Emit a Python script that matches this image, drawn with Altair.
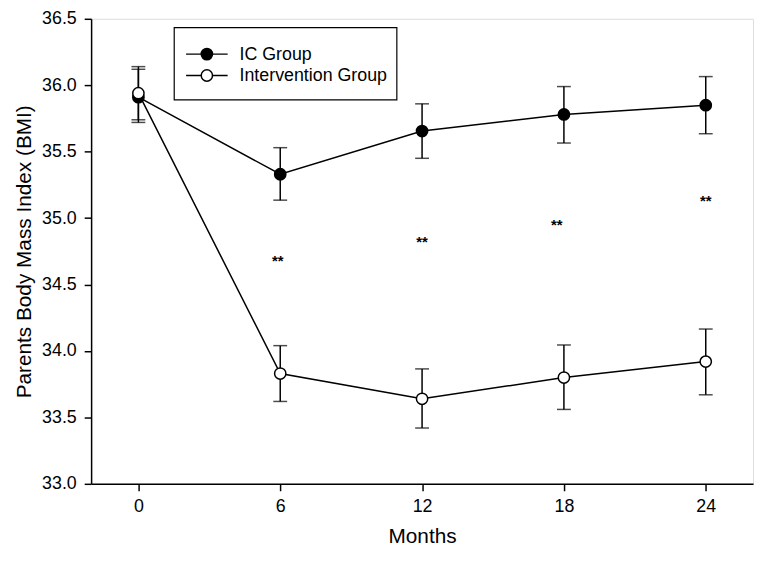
import altair as alt
import pandas as pd

months = [0, 6, 12, 18, 24]
ic_mean = [35.91, 35.33, 35.655, 35.78, 35.85]
ic_lower = [35.72, 35.135, 35.45, 35.565, 35.635]
ic_upper = [36.12, 35.53, 35.86, 35.99, 36.065]
int_mean = [35.94, 33.83, 33.64, 33.80, 33.92]
int_lower = [35.74, 33.62, 33.42, 33.56, 33.67]
int_upper = [36.14, 34.04, 33.865, 34.045, 34.165]

star_x = [5.9, 12.0, 17.7, 24.0]
star_y = [34.71, 34.85, 34.98, 35.16]
star_text = ["**", "**", "**", "**"]

groups = ["IC Group", "Intervention Group"]
group_fill = ["black", "white"]

FONT = "Liberation Sans"

rows = []
for g, m, lo, up in [(groups[0], ic_mean, ic_lower, ic_upper),
                     (groups[1], int_mean, int_lower, int_upper)]:
    for i, mo in enumerate(months):
        rows.append({"group": g, "month": mo, "mean": m[i], "lower": lo[i], "upper": up[i]})
df = pd.DataFrame(rows)
stars = pd.DataFrame({"x": star_x, "y": star_y, "t": star_text})

xscale = alt.Scale(domain=[-2, 26], nice=False, zero=False)
yscale = alt.Scale(domain=[33.0, 36.5], nice=False, zero=False)

xaxis = alt.Axis(values=months, title="Months", grid=False, tickSize=7, labelPadding=7,
                 labelFontSize=18, titleFontSize=21, titleFontWeight="normal",
                 titleBaseline="alphabetic", titleY=59, labelFont=FONT, titleFont=FONT,
                 domainColor="black", tickColor="black", labelColor="black", titleColor="black",
                 domainWidth=1.5, tickWidth=1.5)
yaxis = alt.Axis(values=[33.0, 33.5, 34.0, 34.5, 35.0, 35.5, 36.0, 36.5], format=".1f",
                 title="Parents Body Mass Index (BMI)", grid=False, tickSize=7, labelPadding=8,
                 labelFontSize=18, titleFontSize=21, titleFontWeight="normal",
                 titleBaseline="alphabetic", titleX=-61, titleY=235, labelFont=FONT, titleFont=FONT,
                 domainColor="black", tickColor="black", labelColor="black", titleColor="black",
                 domainWidth=1.5, tickWidth=1.5)

layers = []
for gi, g in enumerate(groups):
    sub = df[df.group == g]
    base = alt.Chart(sub)
    line = base.mark_line(color="black", strokeWidth=1.5).encode(
        x=alt.X("month:Q", scale=xscale, axis=xaxis),
        y=alt.Y("mean:Q", scale=yscale, axis=yaxis))
    err = base.mark_rule(color="black", strokeWidth=1.5).encode(
        x="month:Q", y="lower:Q", y2="upper:Q")
    cap_lo = base.mark_tick(orient="horizontal", color="black", size=14, thickness=1.5).encode(
        x="month:Q", y="lower:Q")
    cap_hi = base.mark_tick(orient="horizontal", color="black", size=14, thickness=1.5).encode(
        x="month:Q", y="upper:Q")
    pts = base.mark_point(shape="circle", filled=True, fill=group_fill[gi], stroke="black",
                          strokeWidth=1.5, size=130, opacity=1).encode(
        x="month:Q", y="mean:Q")
    layers += [line, err, cap_lo, cap_hi, pts]

star_layer = alt.Chart(stars).mark_text(font=FONT, fontSize=15, fontWeight="bold",
                                        color="black", dy=4).encode(
    x="x:Q", y="y:Q", text="t:N")

# manual legend (pixel positions inside plot area)
leg = pd.DataFrame({"label": groups, "fill": group_fill, "ly": [35.7, 57.3]})
box = alt.Chart(pd.DataFrame({"a": [0]})).mark_rect(fill="white", stroke="black", strokeWidth=1.2).encode(
    x=alt.value(84), x2=alt.value(309), y=alt.value(9), y2=alt.value(82))
leg_line = alt.Chart(leg).mark_rule(color="black", strokeWidth=1.5).encode(
    x=alt.value(96), x2=alt.value(138), y=alt.Y("ly:Q", scale=None))
leg_pt = alt.Chart(leg).mark_point(shape="circle", filled=True, stroke="black", strokeWidth=1.5,
                                   size=130, opacity=1).encode(
    x=alt.value(117), y=alt.Y("ly:Q", scale=None),
    fill=alt.Fill("fill:N", scale=None))
leg_txt = alt.Chart(leg).mark_text(font=FONT, fontSize=18, align="left", baseline="middle",
                                   color="black", dy=1).encode(
    x=alt.value(150), y=alt.Y("ly:Q", scale=None), text="label:N")

chart = alt.layer(*layers, star_layer, box, leg_line, leg_pt, leg_txt).resolve_scale(
    y="shared").properties(
    width=669, height=470,
    autosize=alt.AutoSizeParams(type="none"),
    padding={"left": 84, "top": 8, "right": 3, "bottom": 67},
).configure_view(stroke="black", strokeWidth=1.5).configure(background="white")

chart.save("out.html", embed_options={"renderer": "svg", "actions": False})
